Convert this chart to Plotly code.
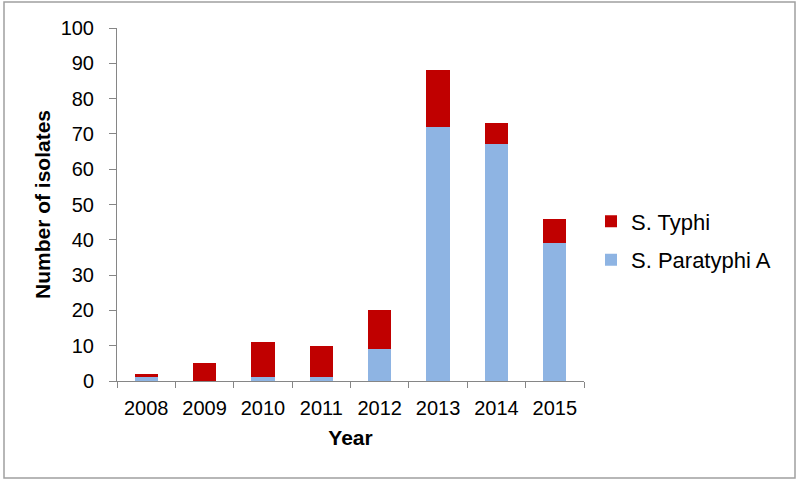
import plotly.graph_objects as go

years = ["2008", "2009", "2010", "2011", "2012", "2013", "2014", "2015"]
paratyphi_a = [1, 0, 1, 1, 9, 72, 67, 39]
typhi = [1, 5, 10, 9, 11, 16, 6, 7]

fig = go.Figure()
fig.add_trace(go.Bar(x=years, y=paratyphi_a, name="S. Paratyphi A", legendgroup="b",
                     legendrank=2,
                     marker=dict(color="#8EB4E3", line=dict(width=0))))
fig.add_trace(go.Bar(x=years, y=typhi, name="S. Typhi", legendgroup="a",
                     legendrank=1,
                     marker=dict(color="#C00000", line=dict(width=0))))

axis_color = "#868686"
fig.update_layout(
    barmode="stack",
    bargap=0.6,
    width=800, height=482,
    margin=dict(l=117, r=216, t=28, b=101, autoexpand=False),
    paper_bgcolor="white", plot_bgcolor="white",
    font=dict(family="Liberation Sans, Arial, sans-serif", size=20, color="black"),
    showlegend=True,
    legend=dict(x=1.015, y=0.397, xanchor="left", yanchor="middle",
                traceorder="grouped", font=dict(size=22),
                itemwidth=30, tracegroupgap=7),
    xaxis=dict(
        type="category", showline=True, linecolor=axis_color, linewidth=1,
        ticks="outside", tickson="boundaries", ticklen=6, tickcolor=axis_color,
        ticklabelstandoff=9,
        title=dict(text="<b>Year</b>", font=dict(size=21), standoff=12),
        showgrid=False, automargin=False,
    ),
    yaxis=dict(
        range=[0, 100], dtick=10, showline=True, linecolor=axis_color, linewidth=1,
        ticks="outside", ticklen=7, tickcolor=axis_color, showgrid=False,
        ticklabelstandoff=11,
        zeroline=False, automargin=False,
        title=dict(text="<b>Number of isolates</b>", font=dict(size=21), standoff=4),
    ),
    shapes=[dict(type="rect", xref="paper", yref="paper",
                 x0=-(117 - 4) / 467, x1=(795 - 117) / 467,
                 y0=-(478 - 381) / 353, y1=(381 - 2) / 353,
                 line=dict(color="#A0A0A0", width=1.5), fillcolor="rgba(0,0,0,0)",
                 layer="below")],
)

fig.write_html("out.html", config={"displayModeBar": False},
               post_script="document.body.style.margin='0px';")
